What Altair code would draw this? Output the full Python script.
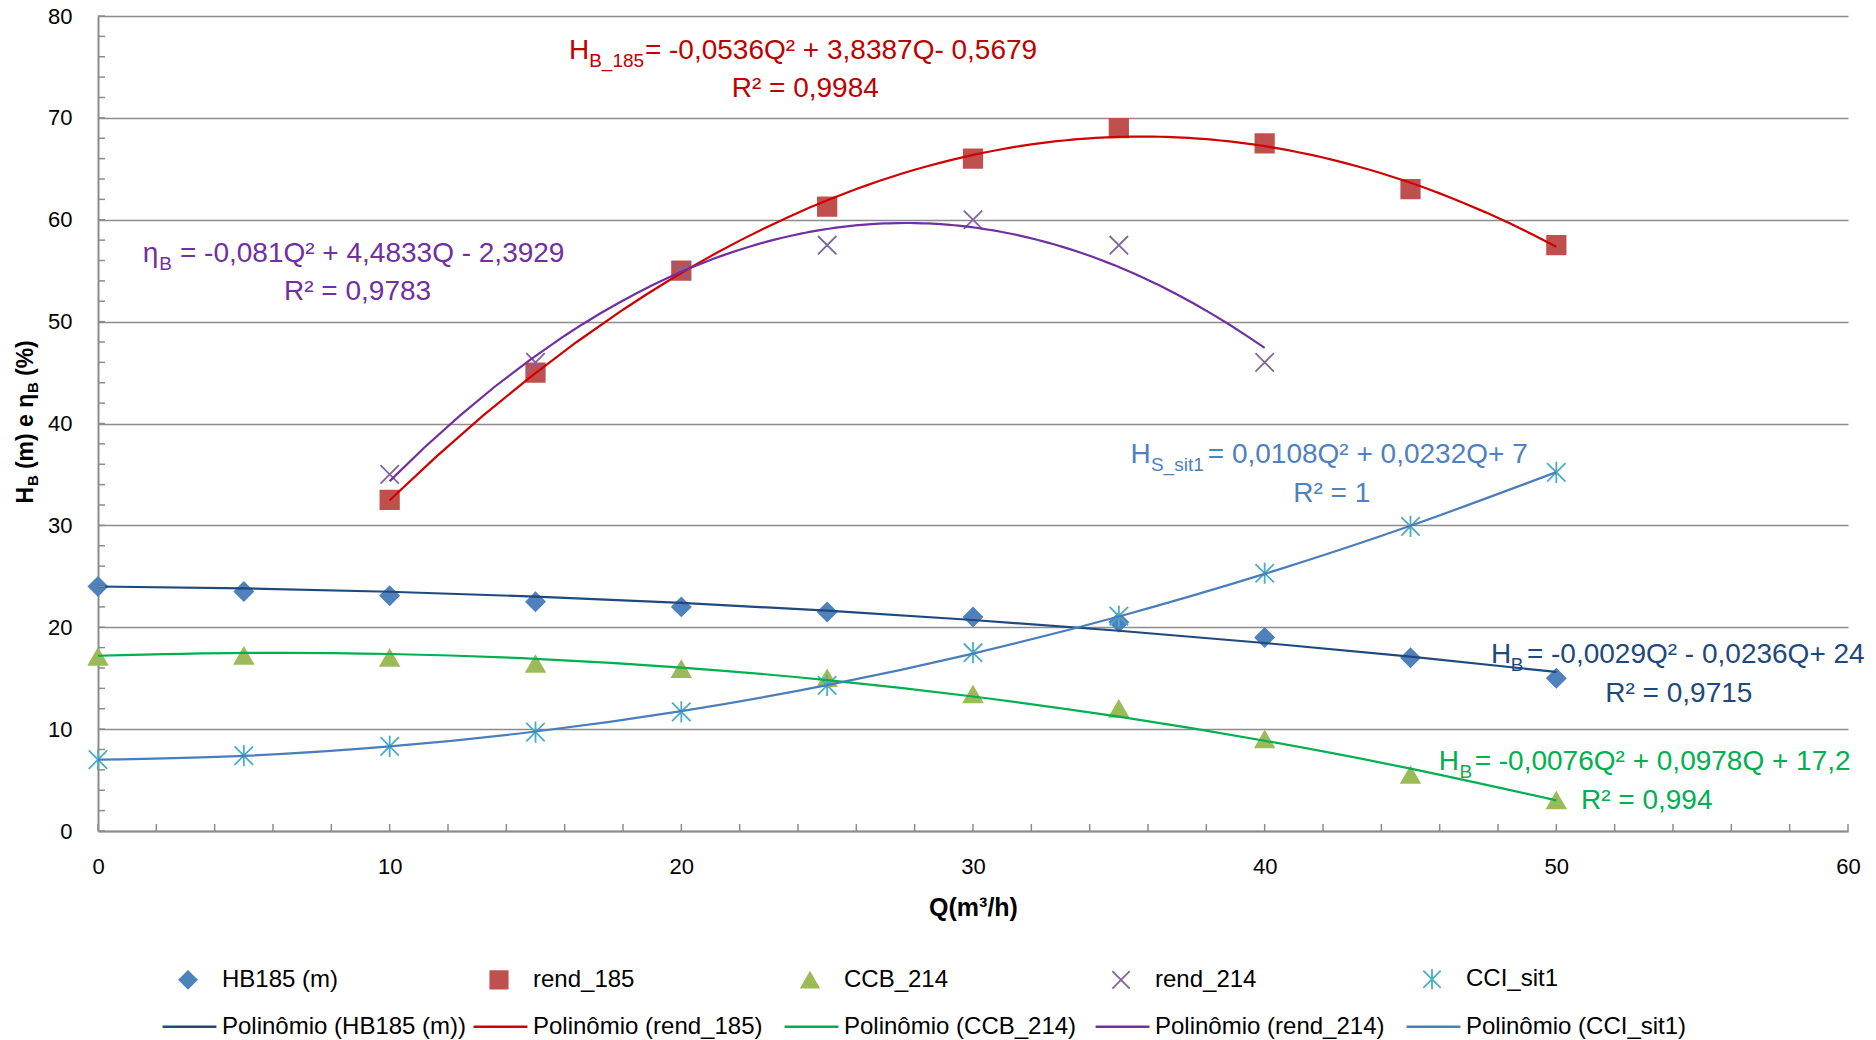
import altair as alt
import pandas as pd

FONT = "Liberation Sans"
GRID = "#8c8c8c"

# ---------------- data ----------------
Q_ALL = [0, 5, 10, 15, 20, 25, 30, 35, 40, 45, 50]
HB185 = [24.0, 23.5, 23.1, 22.5, 22.0, 21.5, 21.0, 20.5, 19.0, 17.0, 15.0]
Q_REND185 = [10, 15, 20, 25, 30, 35, 40, 45, 50]
REND185 = [32.5, 45.0, 55.0, 61.3, 66.0, 69.0, 67.5, 63.0, 57.5]
CCB214 = [17.1, 17.2, 17.0, 16.4, 15.9, 15.0, 13.4, 12.0, 9.0, 5.5, 3.0]
Q_REND214 = [10, 15, 20, 25, 30, 35, 40]
REND214 = [35.0, 46.0, 55.0, 57.5, 60.0, 57.5, 46.0]
CCI_SIT1 = [7.0, 7.4, 8.3, 9.7, 11.7, 14.3, 17.5, 21.1, 25.3, 29.9, 35.2]

SERIES = ["HB185 (m)", "rend_185", "CCB_214", "rend_214", "CCI_sit1"]
MARKER_COLORS = ["#4F81BD", "#C0504D", "#9BBB59", "#8064A2", "#4BACC6"]
SHAPES = ["diamond", "square", "triangle-up",
          "M-1,-1L1,1M-1,1L1,-1",
          "M-1,-1L1,1M-1,1L1,-1M0,-1.15L0,1.15"]
TREND_NAMES = ["Polinômio (" + s + ")" for s in SERIES]
TREND_COLORS = ["#1F497D", "#D00000", "#00B050", "#7030A0", "#4A7EBB"]

# trend lines whose intercept is fixed in the reference (as its equations show)
FIXED_SERIES = ["HB185 (m)", "CCB_214", "CCI_sit1"]
FIXED_INTERCEPT = [24.0, 17.2, 7.0]
FREE_SERIES = ["rend_185", "rend_214"]

X_TICKS = [0, 10, 20, 30, 40, 50, 60]
Y_TICKS = [0, 10, 20, 30, 40, 50, 60, 70, 80]
X_MINOR = list(range(0, 61, 2))
Y_MINOR = list(range(0, 81, 2))

# equation annotations
EQ_COLORS = ["#C00000", "#7030A0", "#4F81BD", "#1F497D", "#00B050"]
EQ_HEAD = ["H", "η", "H", "H", "H"]
EQ_SUB = ["B_185", "B", "S_sit1", "B", "B"]
EQ_BODY = ["= -0,0536Q² + 3,8387Q- 0,5679",
           "= -0,081Q² + 4,4833Q - 2,3929",
           "= 0,0108Q² + 0,0232Q+ 7",
           "= -0,0029Q² - 0,0236Q+ 24",
           "= -0,0076Q² + 0,0978Q + 17,2"]
EQ_R2 = ["R² = 0,9984", "R² = 0,9783", "R² = 1", "R² = 0,9715", "R² = 0,994"]
EQ_X_HEAD = [16.15, 1.53, 35.4, 47.76, 45.97]
EQ_X_SUB = [16.84, 2.1, 36.1, 48.44, 46.68]
EQ_X_BODY = [18.75, 2.81, 38.05, 48.99, 47.2]
EQ_Y = [75.78, 55.85, 36.12, 16.49, 5.99]
EQ_X_R2 = [24.25, 8.9, 42.3, 54.2, 53.1]
EQ_Y_R2 = [72.05, 52.12, 32.29, 12.66, 2.16]

# y-axis title pieces (with subscripts)
YT_MAIN = ["H", "(m) e η", "(%)"]
YT_MAIN_POS = [32.15, 35.53, 44.66]
YT_SUB = ["B", "B"]
YT_SUB_POS = [33.87, 43.0]

W, H = 1750, 815

# ---------------- build tables ----------------
rows = []
for name, qs, vs in [(SERIES[0], Q_ALL, HB185), (SERIES[1], Q_REND185, REND185),
                     (SERIES[2], Q_ALL, CCB214), (SERIES[3], Q_REND214, REND214),
                     (SERIES[4], Q_ALL, CCI_SIT1)]:
    c = FIXED_INTERCEPT[FIXED_SERIES.index(name)] if name in FIXED_SERIES else 0.0
    for q, v in zip(qs, vs):
        rows.append({"series": name, "Q": q, "val": v, "c": c})
df = pd.DataFrame(rows)

x_scale = alt.Scale(domain=[0, 60], nice=False, zero=False)
y_scale = alt.Scale(domain=[0, 80], nice=False)

legend_pts = alt.Legend(title=None, orient="none", legendX=78, legendY=951,
                        direction="horizontal", columns=5, gridAlign="all",
                        columnPadding=147, labelFont=FONT, labelFontSize=24,
                        labelColor="#000000", symbolSize=300, symbolStrokeWidth=1.8,
                        labelOffset=22, padding=0, labelLimit=400)
legend_lines = alt.Legend(title=None, orient="none", legendX=63, legendY=982,
                          direction="horizontal", columns=5, gridAlign="all",
                          columnPadding=1, labelFont=FONT, labelFontSize=24,
                          labelColor="#000000", symbolSize=2900, symbolStrokeWidth=2.5,
                          symbolType="stroke", labelOffset=4, padding=0, labelLimit=400)

x_axis = alt.Axis(values=X_TICKS, title="Q(m³/h)", grid=False, ticks=False,
                  domainColor=GRID, domainWidth=2, labelFont=FONT,
                  labelFontSize=22, labelColor="#000000", labelPadding=25,
                  titleFont=FONT, titleFontSize=25, titleFontWeight="bold",
                  titleColor="#000000", titlePadding=18, format="d",
                  labelFlush=False)
y_axis = alt.Axis(values=Y_TICKS, title=None, grid=True, gridColor=GRID,
                  gridWidth=1.6, ticks=False, domainColor=GRID, domainWidth=2,
                  labelFont=FONT, labelFontSize=22, labelColor="#000000",
                  labelPadding=26, format="d", labelFlush=False)

trend_color = alt.Color("trend:N", scale=alt.Scale(domain=TREND_NAMES, range=TREND_COLORS),
                        legend=legend_lines)

base = alt.Chart(df)

points = base.mark_point(filled=True, opacity=1, size=340, strokeWidth=1.8).encode(
    x=alt.X("Q:Q", scale=x_scale, axis=x_axis),
    y=alt.Y("val:Q", scale=y_scale, axis=y_axis),
    fill=alt.Fill("series:N", scale=alt.Scale(domain=SERIES, range=MARKER_COLORS),
                  legend=legend_pts),
    stroke=alt.Stroke("series:N", scale=alt.Scale(domain=SERIES, range=MARKER_COLORS),
                      legend=legend_pts),
    shape=alt.Shape("series:N", scale=alt.Scale(domain=SERIES, range=SHAPES),
                    legend=legend_pts),
)

# free quadratic least-squares fits (Vega regression)
trend_free = base.transform_filter(
    alt.FieldOneOfPredicate(field="series", oneOf=FREE_SERIES)
).transform_regression(
    "Q", "val", groupby=["series"], method="poly", order=2
).transform_calculate(
    trend='"Polinômio (" + datum.series + ")"'
).mark_line(strokeWidth=2.2).encode(
    x=alt.X("Q:Q", scale=x_scale, axis=x_axis),
    y=alt.Y("val:Q", scale=y_scale, axis=y_axis),
    color=trend_color,
)

# quadratic least-squares fits with the intercept fixed (as in the reference)
trend_fixed = base.transform_filter(
    alt.FieldOneOfPredicate(field="series", oneOf=FIXED_SERIES)
).transform_calculate(
    z="datum.val - datum.c",
    q2="datum.Q * datum.Q",
    q3="datum.Q * datum.Q * datum.Q",
    q4="datum.Q * datum.Q * datum.Q * datum.Q",
    zq="(datum.val - datum.c) * datum.Q",
    zq2="(datum.val - datum.c) * datum.Q * datum.Q",
).transform_joinaggregate(
    S2="sum(q2)", S3="sum(q3)", S4="sum(q4)", Szq="sum(zq)", Szq2="sum(zq2)",
    groupby=["series"],
).transform_calculate(
    det="datum.S2 * datum.S4 - datum.S3 * datum.S3",
).transform_calculate(
    b="(datum.Szq * datum.S4 - datum.S3 * datum.Szq2) / datum.det",
    a="(datum.S2 * datum.Szq2 - datum.S3 * datum.Szq) / datum.det",
).transform_calculate(
    fit="datum.c + datum.b * datum.Q + datum.a * datum.Q * datum.Q",
    trend='"Polinômio (" + datum.series + ")"',
).mark_line(strokeWidth=2.2, interpolate="natural").encode(
    x=alt.X("Q:Q", scale=x_scale, axis=x_axis),
    y=alt.Y("fit:Q", scale=y_scale, axis=y_axis),
    color=trend_color,
    order="Q:Q",
)

yticks = alt.Chart(pd.DataFrame({"v": Y_MINOR})).mark_rule(
    color=GRID, strokeWidth=1.5).encode(
    y=alt.Y("v:Q", scale=y_scale, axis=y_axis), x=alt.value(0), x2=alt.value(7))
xticks = alt.Chart(pd.DataFrame({"v": X_MINOR})).mark_rule(
    color=GRID, strokeWidth=1.5).encode(
    x=alt.X("v:Q", scale=x_scale, axis=x_axis), y=alt.value(H), y2=alt.value(H - 7))

texts = []
for i in range(5):
    col = EQ_COLORS[i]
    d_main = pd.DataFrame({"x": [EQ_X_HEAD[i], EQ_X_BODY[i]], "y": [EQ_Y[i], EQ_Y[i]],
                           "t": [EQ_HEAD[i], EQ_BODY[i]]})
    d_sub = pd.DataFrame({"x": [EQ_X_SUB[i]], "y": [EQ_Y[i]], "t": [EQ_SUB[i]]})
    d_r2 = pd.DataFrame({"x": [EQ_X_R2[i]], "y": [EQ_Y_R2[i]], "t": [EQ_R2[i]]})
    texts.append(alt.Chart(d_main).mark_text(
        align="left", baseline="alphabetic", font=FONT, fontSize=28, color=col).encode(
        x=alt.X("x:Q", scale=x_scale, axis=x_axis),
        y=alt.Y("y:Q", scale=y_scale, axis=y_axis), text="t:N"))
    texts.append(alt.Chart(d_sub).mark_text(
        align="left", baseline="alphabetic", font=FONT, fontSize=19, dy=8, color=col).encode(
        x=alt.X("x:Q", scale=x_scale, axis=x_axis),
        y=alt.Y("y:Q", scale=y_scale, axis=y_axis), text="t:N"))
    texts.append(alt.Chart(d_r2).mark_text(
        align="center", baseline="alphabetic", font=FONT, fontSize=28, color=col).encode(
        x=alt.X("x:Q", scale=x_scale, axis=x_axis),
        y=alt.Y("y:Q", scale=y_scale, axis=y_axis), text="t:N"))

ytitle_main = alt.Chart(pd.DataFrame({"p": YT_MAIN_POS, "t": YT_MAIN})).mark_text(
    align="left", baseline="alphabetic", angle=270, font=FONT, fontSize=23,
    fontWeight="bold", color="#000000").encode(
    y=alt.Y("p:Q", scale=y_scale, axis=y_axis), x=alt.value(-65), text="t:N")
ytitle_sub = alt.Chart(pd.DataFrame({"p": YT_SUB_POS, "t": YT_SUB})).mark_text(
    align="left", baseline="alphabetic", angle=270, font=FONT, fontSize=15,
    fontWeight="bold", dy=5, color="#000000").encode(
    y=alt.Y("p:Q", scale=y_scale, axis=y_axis), x=alt.value(-65), text="t:N")

chart = alt.layer(points, trend_free, trend_fixed, yticks, xticks, *texts,
                  ytitle_main, ytitle_sub).properties(
    width=W, height=H,
    padding={"left": 98, "top": 16, "right": 28, "bottom": 209},
    autosize=alt.AutoSizeParams(type="none"),
    background="white",
).configure_view(stroke=None)

chart.save("out.html", embed_options={"renderer": "svg", "actions": False})
